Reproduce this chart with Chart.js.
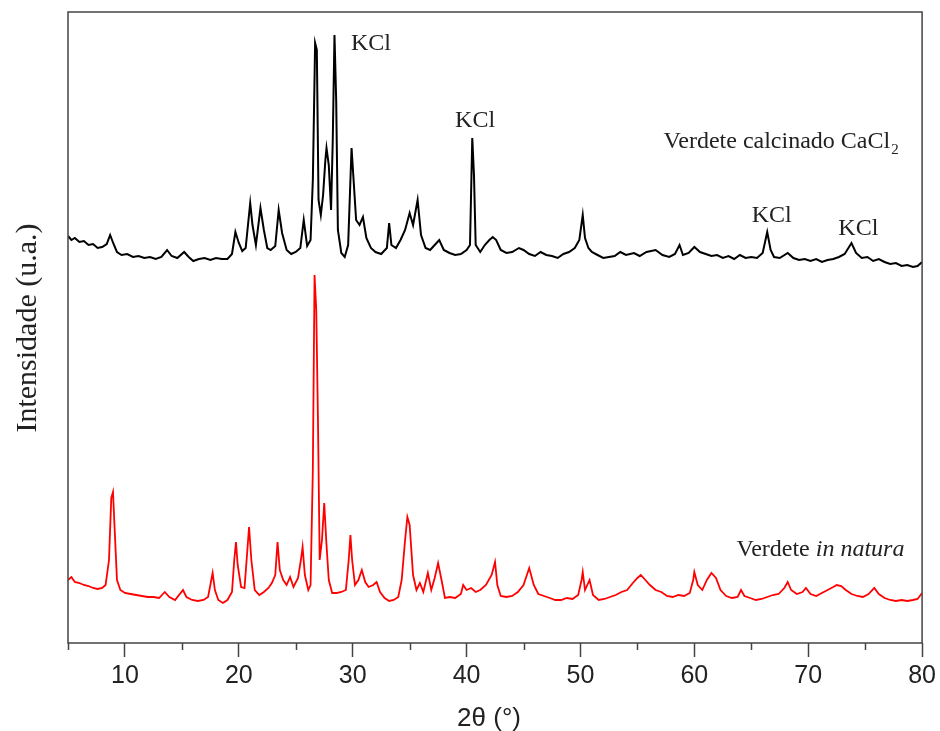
<!DOCTYPE html>
<html>
<head>
<meta charset="utf-8">
<script src="https://cdn.jsdelivr.net/npm/chart.js@4"></script>
<style>
  body { margin: 0; background: #fff; }
  canvas { display: block; }
</style>
</head>
<body>
<canvas id="myChart" width="940" height="731"></canvas>
<script>
// 2θ (°) and intensity (u.a.)
const calcTheta = [5.0, 5.3, 5.6, 6.0, 6.4, 6.8, 7.2, 7.6, 8.0, 8.4, 8.7, 9.0, 9.3, 9.7, 10.2, 10.7, 11.2, 11.7, 12.2, 12.7, 13.2, 13.7, 14.1, 14.6, 15.2, 15.6, 16.0, 16.5, 17.0, 17.5, 18.0, 18.5, 19.0, 19.4, 19.7, 20.0, 20.3, 20.6, 21.0, 21.2, 21.5, 21.9, 22.2, 22.5, 22.8, 23.2, 23.5, 23.8, 24.2, 24.6, 25.0, 25.4, 25.7, 26.0, 26.3, 26.5, 26.7, 26.85, 27.0, 27.2, 27.4, 27.6, 27.7, 27.9, 28.1, 28.25, 28.4, 28.55, 28.7, 29.0, 29.3, 29.6, 29.8, 29.9, 30.05, 30.3, 30.6, 30.9, 31.2, 31.6, 32.0, 32.5, 33.0, 33.2, 33.4, 33.8, 34.2, 34.6, 35.0, 35.3, 35.7, 36.0, 36.4, 36.8, 37.2, 37.6, 38.0, 38.5, 39.0, 39.5, 40.0, 40.3, 40.5, 40.65, 40.8, 41.2, 41.6, 42.0, 42.3, 42.6, 43.0, 43.5, 44.0, 44.6, 45.0, 45.5, 46.0, 46.5, 47.0, 47.5, 48.0, 48.5, 49.0, 49.5, 49.9, 50.2, 50.4, 50.7, 51.0, 51.5, 52.0, 52.5, 53.0, 53.5, 54.0, 54.7, 55.2, 55.8, 56.6, 57.2, 57.8, 58.3, 58.7, 59.0, 59.5, 60.0, 60.5, 61.0, 61.5, 62.0, 62.5, 63.0, 63.5, 64.0, 64.5, 65.0, 65.5, 66.0, 66.4, 66.7, 67.0, 67.5, 68.2, 68.7, 69.2, 69.7, 70.2, 70.7, 71.2, 71.7, 72.2, 72.7, 73.2, 73.8, 74.2, 74.7, 75.2, 75.7, 76.2, 76.7, 77.2, 77.7, 78.2, 78.7, 79.2, 79.6, 80.0];
const calcIntensity = [404, 400, 402, 398, 399, 395, 396, 392, 393, 396, 405, 396, 388, 385, 386, 383, 384, 382, 383, 381, 383, 390, 384, 382, 388, 383, 379, 381, 382, 380, 382, 381, 381, 386, 408, 397, 389, 392, 437, 415, 395, 432, 410, 392, 390, 394, 430, 407, 390, 386, 388, 392, 420, 394, 400, 460, 597, 590, 440, 425, 445, 480, 492, 475, 430, 500, 605, 540, 410, 387, 383, 395, 460, 492, 465, 420, 415, 423, 402, 392, 388, 386, 392, 417, 395, 392, 400, 410, 427, 415, 440, 405, 392, 390, 395, 400, 390, 387, 385, 386, 390, 395, 502, 465, 395, 388, 395, 400, 403, 400, 390, 387, 388, 392, 390, 386, 384, 388, 385, 384, 382, 386, 388, 392, 400, 425, 402, 392, 388, 385, 382, 383, 384, 388, 385, 387, 384, 388, 390, 385, 383, 386, 395, 385, 387, 393, 388, 386, 384, 385, 382, 384, 381, 385, 382, 383, 382, 387, 408, 390, 383, 382, 387, 382, 380, 381, 379, 381, 378, 380, 381, 383, 386, 397, 387, 382, 383, 379, 381, 378, 376, 377, 374, 375, 373, 374, 378];

const naturaTheta = [5.0, 5.3, 5.6, 6.0, 6.4, 6.8, 7.2, 7.6, 8.0, 8.3, 8.6, 8.8, 8.95, 9.1, 9.3, 9.6, 10.0, 10.5, 11.0, 11.5, 12.0, 12.5, 13.0, 13.5, 13.9, 14.4, 15.1, 15.4, 15.9, 16.4, 16.9, 17.3, 17.5, 17.7, 17.9, 18.2, 18.6, 19.0, 19.4, 19.6, 19.75, 19.9, 20.2, 20.5, 20.75, 20.9, 21.1, 21.4, 21.8, 22.2, 22.6, 22.9, 23.2, 23.4, 23.6, 23.9, 24.2, 24.5, 24.8, 25.2, 25.45, 25.6, 25.8, 26.1, 26.3, 26.5, 26.65, 26.8, 26.95, 27.1, 27.3, 27.5, 27.7, 27.9, 28.2, 28.6, 29.0, 29.4, 29.65, 29.8, 29.95, 30.2, 30.5, 30.8, 31.1, 31.4, 31.8, 32.1, 32.4, 32.8, 33.2, 33.6, 34.0, 34.3, 34.6, 34.8, 35.0, 35.3, 35.6, 35.9, 36.2, 36.6, 36.9, 37.2, 37.5, 37.8, 38.1, 38.5, 39.0, 39.5, 39.7, 40.0, 40.4, 40.8, 41.2, 41.7, 42.2, 42.5, 42.7, 43.0, 43.5, 44.0, 44.5, 45.0, 45.5, 45.9, 46.3, 46.8, 47.3, 47.8, 48.3, 48.8, 49.3, 49.8, 50.1, 50.2, 50.4, 50.8, 51.1, 51.6, 52.1, 52.6, 53.1, 53.6, 54.1, 54.6, 55.0, 55.3, 55.7, 56.1, 56.6, 57.1, 57.6, 58.1, 58.6, 59.1, 59.6, 59.9, 60.0, 60.3, 60.7, 61.1, 61.5, 61.9, 62.3, 62.8, 63.3, 63.8, 64.1, 64.4, 64.9, 65.4, 65.9, 66.4, 66.9, 67.4, 67.9, 68.2, 68.5, 69.0, 69.5, 69.8, 70.2, 70.7, 71.2, 71.7, 72.2, 72.5, 72.9, 73.3, 73.8, 74.3, 74.8, 75.3, 75.8, 76.2, 76.7, 77.2, 77.7, 78.2, 78.7, 79.2, 79.6, 80.0];
const naturaIntensity = [60, 63, 58, 57, 55, 54, 52, 51, 52, 55, 80, 142, 148, 110, 60, 50, 47, 46, 45, 44, 43, 43, 42, 48, 43, 40, 50, 43, 40, 39, 40, 43, 55, 67, 50, 40, 37, 40, 48, 80, 98, 75, 53, 52, 90, 113, 80, 50, 45, 48, 52, 57, 65, 98, 70, 60, 55, 63, 53, 62, 80, 93, 65, 50, 55, 170, 365, 330, 220, 80, 100, 137, 95, 60, 47, 47, 48, 50, 80, 105, 80, 55, 60, 70, 58, 53, 55, 58, 48, 42, 39, 40, 43, 60, 100, 123, 115, 65, 50, 57, 48, 67, 50, 62, 77, 60, 42, 43, 42, 46, 55, 50, 52, 48, 50, 55, 65, 78, 55, 44, 43, 44, 48, 55, 72, 55, 46, 44, 42, 40, 40, 42, 41, 45, 60, 68, 50, 60, 45, 40, 41, 43, 45, 48, 50, 57, 62, 65, 60, 55, 50, 48, 44, 43, 45, 44, 47, 60, 68, 55, 50, 60, 67, 62, 50, 44, 42, 43, 50, 44, 42, 40, 41, 43, 45, 46, 52, 58, 50, 46, 48, 52, 46, 44, 47, 50, 53, 55, 54, 50, 46, 44, 43, 46, 52, 46, 42, 40, 39, 40, 39, 40, 41, 47];

const xMajorTicks = [10, 20, 30, 40, 50, 60, 70, 80];
const xMinorTicks = [5, 15, 25, 35, 45, 55, 65, 75];

// peak labels (2θ, intensity at text centre)
const notes = [
    { text: 'KCl', x: 31.6, y: 596 },
    { text: 'KCl', x: 40.75, y: 519 },
    { text: 'KCl', x: 66.8, y: 424 },
    { text: 'KCl', x: 74.4, y: 411 }
];

const sansFont = "'Liberation Sans Narrow', 'Liberation Sans', Arial, sans-serif";
const serifFont = "'Liberation Serif', 'Times New Roman', serif";

const toPoints = (xs, ys) => xs.map((x, i) => ({ x: x, y: ys[i] }));

const framePlugin = {
    id: 'frame',
    afterDraw(chart) {
        const c = chart.ctx;
        const a = chart.chartArea;
        const xs = chart.scales.x;
        const ys = chart.scales.y;
        c.save();
        c.strokeStyle = '#444';
        c.lineWidth = 1.5;
        c.strokeRect(a.left, a.top, a.right - a.left, a.bottom - a.top);
        // minor ticks
        c.beginPath();
        xMinorTicks.forEach(v => {
            const px = Math.round(xs.getPixelForValue(v)) + 0.5;
            c.moveTo(px, a.bottom);
            c.lineTo(px, a.bottom + 7);
        });
        c.stroke();

        // axis titles
        c.fillStyle = '#222';
        c.textAlign = 'center';
        c.textBaseline = 'middle';
        c.font = '26px ' + sansFont;
        c.fillText('2θ (°)', (a.left + a.right) / 2 - 6, 719);
        c.save();
        c.translate(28, 328);
        c.rotate(-Math.PI / 2);
        c.font = '30px ' + serifFont;
        c.fillText('Intensidade (u.a.)', 0, 0);
        c.restore();

        // KCl labels
        c.font = '24px ' + serifFont;
        notes.forEach(n => {
            c.fillText(n.text, xs.getPixelForValue(n.x), ys.getPixelForValue(n.y));
        });

        // curve names
        c.textAlign = 'left';
        c.textBaseline = 'alphabetic';
        let px = xs.getPixelForValue(57.3);
        let py = ys.getPixelForValue(492);
        const main = 'Verdete calcinado CaCl';
        c.fillText(main, px, py);
        const w = c.measureText(main).width;
        c.font = '15px ' + serifFont;
        c.fillText('2', px + w + 1, py + 6);

        px = xs.getPixelForValue(63.7);
        py = ys.getPixelForValue(84);
        c.font = '24px ' + serifFont;
        const first = 'Verdete ';
        c.fillText(first, px, py);
        const w2 = c.measureText(first).width;
        c.font = 'italic 24px ' + serifFont;
        c.fillText('in natura', px + w2, py);
        c.restore();
    }
};

new Chart(document.getElementById('myChart'), {
    type: 'line',
    data: {
        datasets: [{
            label: 'Verdete calcinado CaCl2',
            data: toPoints(calcTheta, calcIntensity),
            borderColor: '#000',
            borderWidth: 2,
            pointRadius: 0,
            tension: 0
        }, {
            label: 'Verdete in natura',
            data: toPoints(naturaTheta, naturaIntensity),
            borderColor: '#ff0000',
            borderWidth: 1.8,
            pointRadius: 0,
            tension: 0
        }]
    },
    options: {
        responsive: false,
        animation: false,
        layout: { padding: { left: 68, right: 16, top: 12, bottom: 0 } },
        plugins: {
            legend: { display: false },
            tooltip: { enabled: false }
        },
        scales: {
            x: {
                type: 'linear',
                min: 5,
                max: 80,
                afterBuildTicks: s => { s.ticks = xMajorTicks.map(v => ({ value: v })); },
                afterFit: s => { s.height = 88; },
                ticks: {
                    autoSkip: false,
                    maxRotation: 0,
                    padding: 4,
                    color: '#222',
                    font: { family: sansFont, size: 25 }
                },
                grid: {
                    drawOnChartArea: false,
                    drawTicks: true,
                    tickLength: 14,
                    tickWidth: 1.5,
                    tickColor: '#444'
                },
                border: { display: false }
            },
            y: {
                display: false,
                min: -3,
                max: 628
            }
        }
    },
    plugins: [framePlugin]
});
</script>
</body>
</html>
